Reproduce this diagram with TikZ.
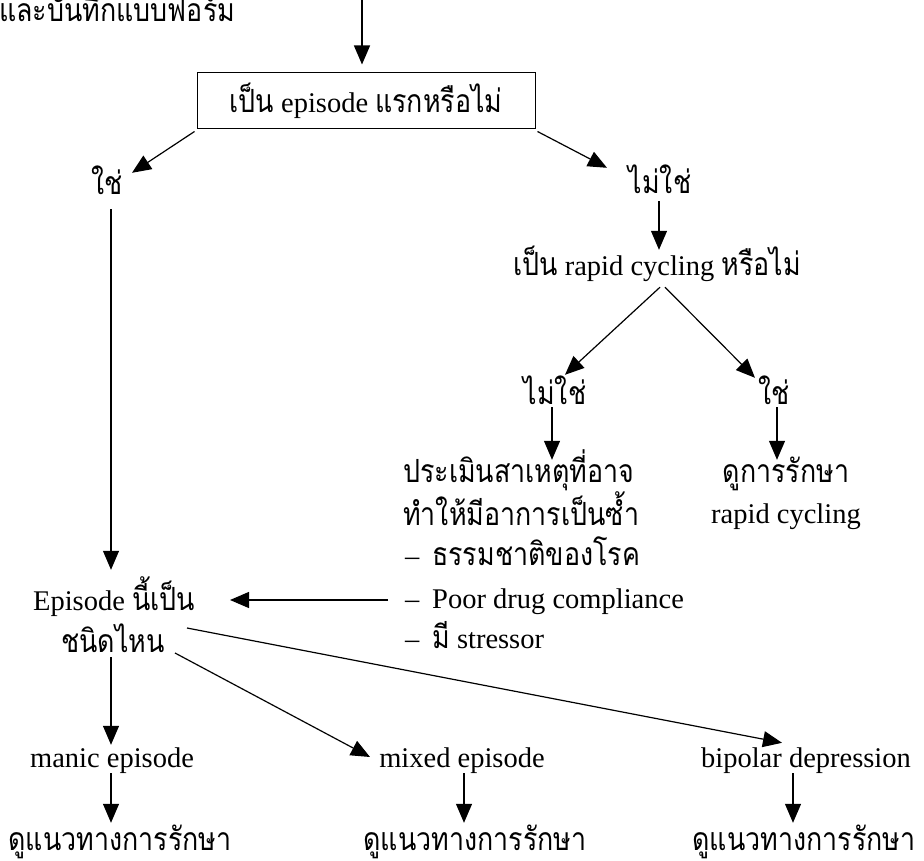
\documentclass[tikz,border=0pt]{standalone}
\usepackage{fontspec}
\setmainfont{Liberation Serif}
\newfontfamily\thai[Script=Thai,Scale=1.12,FakeStretch=0.84]{Loma}
\usetikzlibrary{arrows.meta,calc}
\newcommand{\T}[1]{{\thai #1}}
\newcommand{\dashitem}{\makebox[27pt][l]{–}}
\begin{document}
\begin{tikzpicture}[x=1pt,y=-1pt,
  font=\fontsize{28.5}{34}\selectfont,
  txt/.style={inner sep=0pt, text height=21pt, text depth=7pt, anchor=base},
  boxst/.style={draw, line width=1pt, minimum width=338pt, minimum height=56pt, inner sep=0pt},
  arr/.style={line width=1.2pt, -{Triangle[length=19pt,width=16pt]}}]
\useasboundingbox (0,0) rectangle (924,861);

\node[txt, anchor=base west] (prev) at (-1,22) {\T{และบันทึกแบบฟอร์ม}};
\node[boxst] (box) at (366,101) {\T{เป็น} episode \T{แรกหรือไม่}};
\node[txt] (yes1) at (107,195) {\T{ใช่}};
\node[txt] (no1) at (660,194) {\T{ไม่ใช่}};
\node[txt] (q2) at (657,276) {\T{เป็น} rapid cycling \T{หรือไม่}};
\node[txt] (no2) at (555,404) {\T{ไม่ใช่}};
\node[txt] (yes2) at (774,404) {\T{ใช่}};
\node[txt, anchor=base west] (cause1) at (403,482) {\T{ประเมินสาเหตุที่อาจ}};
\node[txt, anchor=base west] (cause2) at (403,525) {\T{ทำให้มีอาการเป็นซ้ำ}};
\node[txt, anchor=base west] (cause3) at (405,565) {\dashitem\T{ธรรมชาติของโรค}};
\node[txt, anchor=base west] (cause4) at (405,608) {\dashitem Poor drug compliance};
\node[txt, anchor=base west] (cause5) at (405,648) {\dashitem\T{มี} stressor};
\node[txt] (treat1) at (786,482) {\T{ดูการรักษา}};
\node[txt] (treat2) at (786,523) {rapid cycling};
\node[txt] (ep1) at (114,610) {Episode \T{นี้เป็น}};
\node[txt] (ep2) at (113,652) {\T{ชนิดไหน}};
\node[txt] (manic) at (112,767) {manic episode};
\node[txt] (mixed) at (462,767) {mixed episode};
\node[txt] (bip) at (806,767) {bipolar depression};
\node[txt] (g1) at (120,850) {\T{ดูแนวทางการรักษา}};
\node[txt] (g2) at (475,850) {\T{ดูแนวทางการรักษา}};
\node[txt] (g3) at (804,850) {\T{ดูแนวทางการรักษา}};

\coordinate (top) at (362,0);
\draw[arr] (top) -- ($(top |- box.north)+(0,-8)$);
\draw[arr] ($(box.south west)+(-2,2)$) -- ($(yes1.north)+(25,-1)$);
\draw[arr] ($(box.south east)+(2,2)$) -- ($(no1.north)+(-53,-5)$);
\draw[arr] ($(no1.south)+(-1,0)$) -- ($(no1.south |- q2.north)+(-1,-5)$);
\draw[arr] ($(q2.south)+(3,4)$) -- ($(no2.north)+(10,-8)$);
\draw[arr] ($(q2.south)+(8,4)$) -- ($(yes2.north)+(-19,-5)$);
\draw[arr] ($(no2.south)+(-3,-4)$) -- ($(no2.south |- cause1.north)+(-3,-1)$);
\draw[arr] ($(yes2.south)+(3,-4)$) -- ($(yes2.south |- treat1.north)+(3,-1)$);
\draw[arr] ($(cause4.west)+(-17,-1)$) -- ($(ep1.center |- cause4.west)+(116,-1)$);
\draw[arr] ($(yes1.south)+(4,7)$) -- ($(ep1.north)+(-3,-19)$);
\draw[arr] ($(ep2.south)+(-2,-2)$) -- ($(manic.north)+(-1,-1)$);
\draw[arr] ($(ep2.center)+(62,8)$) -- ($(mixed.center)+(-92,-3)$);
\draw[arr] ($(ep1.center)+(73,25)$) -- ($(bip.north)+(-24,-3)$);
\draw[arr] ($(manic.south)+(-1,-1)$) -- ($(manic.south |- g1.north)+(-1,-6)$);
\draw[arr] ($(mixed.south)+(2,-1)$) -- ($(mixed.south |- g2.north)+(2,-6)$);
\draw[arr] ($(bip.south)+(-13,-1)$) -- ($(bip.south |- g3.north)+(-13,-6)$);
\end{tikzpicture}
\end{document}
